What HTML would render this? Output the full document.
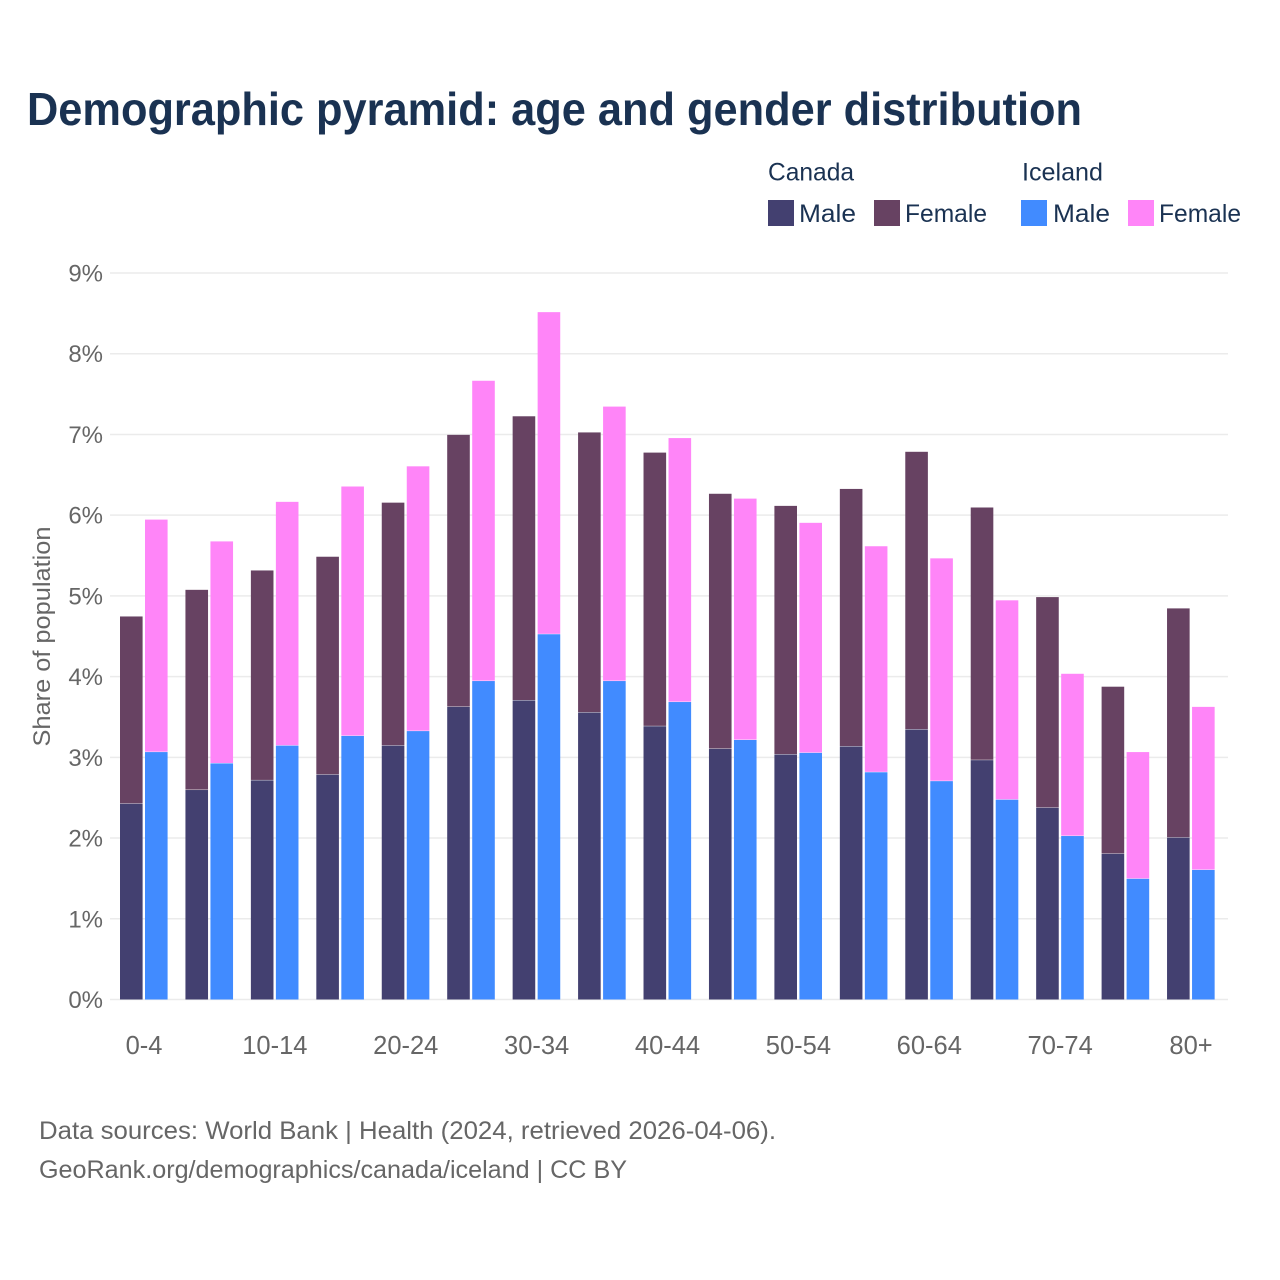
<!DOCTYPE html>
<html lang="en">
<head>
<meta charset="utf-8">
<title>Demographic pyramid: age and gender distribution</title>
<style>
html,body{margin:0;padding:0;background:#fff;}
svg{display:block;font-family:"Liberation Sans",sans-serif;}
</style>
</head>
<body>
<svg id="chart" width="1280" height="1280" viewBox="0 0 1280 1280" xmlns="http://www.w3.org/2000/svg">
<rect width="1280" height="1280" fill="#fff"/>
<text x="27" y="125" font-size="46" font-weight="700" fill="#1a3252" textLength="1055" lengthAdjust="spacingAndGlyphs">Demographic pyramid: age and gender distribution</text>
<g id="grid"></g>
<g id="bars"></g>
<g id="yticks"></g>
<g id="xticks"></g>
<text transform="translate(50,636.5) rotate(-90)" text-anchor="middle" font-size="24" fill="#666" textLength="220" lengthAdjust="spacingAndGlyphs">Share of population</text>
<g>
  <text x="768" y="180.5" font-size="25" fill="#1a3252" textLength="86" lengthAdjust="spacingAndGlyphs">Canada</text>
  <text x="1022" y="180.5" font-size="25" fill="#1a3252" textLength="81" lengthAdjust="spacingAndGlyphs">Iceland</text>
  <rect x="768" y="200" width="26" height="26" fill="#434070"/>
  <text x="799" y="222" font-size="25" fill="#1a3252" textLength="57" lengthAdjust="spacingAndGlyphs">Male</text>
  <rect x="874" y="200" width="26" height="26" fill="#674262"/>
  <text x="905" y="222" font-size="25" fill="#1a3252" textLength="82" lengthAdjust="spacingAndGlyphs">Female</text>
  <rect x="1021" y="200" width="26" height="26" fill="#418bff"/>
  <text x="1053" y="222" font-size="25" fill="#1a3252" textLength="57" lengthAdjust="spacingAndGlyphs">Male</text>
  <rect x="1128" y="200" width="26" height="26" fill="#ff85f8"/>
  <text x="1159" y="222" font-size="25" fill="#1a3252" textLength="82" lengthAdjust="spacingAndGlyphs">Female</text>
</g>
<text x="39" y="1139" font-size="25" fill="#666" textLength="737" lengthAdjust="spacingAndGlyphs">Data sources: World Bank | Health (2024, retrieved 2026-04-06).</text>
<text x="39" y="1178" font-size="25" fill="#666" textLength="588" lengthAdjust="spacingAndGlyphs">GeoRank.org/demographics/canada/iceland | CC BY</text>
</svg>
<script>
const ageGroups = ["0-4","5-9","10-14","15-19","20-24","25-29","30-34","35-39","40-44","45-49","50-54","55-59","60-64","65-69","70-74","75-79","80+"];
const canadaMale = [2.43,2.60,2.72,2.79,3.15,3.63,3.71,3.56,3.39,3.11,3.04,3.14,3.35,2.97,2.38,1.81,2.01];
const canadaFemale = [2.32,2.48,2.60,2.70,3.01,3.37,3.52,3.47,3.39,3.16,3.08,3.19,3.44,3.13,2.61,2.07,2.84];
const icelandMale = [3.07,2.93,3.15,3.27,3.33,3.95,4.53,3.95,3.69,3.22,3.06,2.82,2.71,2.48,2.03,1.50,1.61];
const icelandFemale = [2.88,2.75,3.02,3.09,3.28,3.72,3.99,3.40,3.27,2.99,2.85,2.80,2.76,2.47,2.01,1.57,2.02];
const yTickValues = [0,1,2,3,4,5,6,7,8,9];

const NS = "http://www.w3.org/2000/svg";
const plot = {left:110, right:1228, y0:999.5, y9:273, x0:144, step:65.44};
const barWidth = 22.6;
function yScale(v){ return plot.y0 - (v / 9) * (plot.y0 - plot.y9); }
function xCenter(i){ return plot.x0 + i * plot.step; }
function make(tag, attrs, parent){
  const el = document.createElementNS(NS, tag);
  for (const k in attrs) el.setAttribute(k, attrs[k]);
  parent.appendChild(el);
  return el;
}
const grid = document.getElementById("grid");
const yticks = document.getElementById("yticks");
const xticks = document.getElementById("xticks");
const bars = document.getElementById("bars");

yTickValues.forEach(function(t){
  const line = make("line", {x1:plot.left, x2:plot.right, y1:yScale(t), y2:yScale(t), stroke:"#ebebeb", "stroke-width":1.5}, grid);
  
  
  const label = make("text", {x:103, y:yScale(t)+8.5, "text-anchor":"end", "font-size":24, fill:"#666"}, yticks);
  
  
  label.textContent = t + "%";
});

ageGroups.forEach(function(name, i){
  if (i % 2 === 0) {
    const label = make("text", {x:xCenter(i), y:1054, "text-anchor":"middle", "font-size":25.5, fill:"#666"}, xticks);
    
    
    label.textContent = name;
  }
  function bar(x, base, value, color){
    const top = yScale(base + value) + 0.4, bottom = yScale(base);
    const r = make("rect", {x:x, y:top, width:barWidth, height:bottom - top, fill:color}, bars);
    
    
  }
  const cx = xCenter(i);
  const xLeft = cx - 24, xRight = cx + 1;
  bar(xLeft, 0, canadaMale[i], "#434070");
  bar(xLeft, canadaMale[i], canadaFemale[i], "#674262");
  bar(xRight, 0, icelandMale[i], "#418bff");
  bar(xRight, icelandMale[i], icelandFemale[i], "#ff85f8");
});
</script>
</body>
</html>
